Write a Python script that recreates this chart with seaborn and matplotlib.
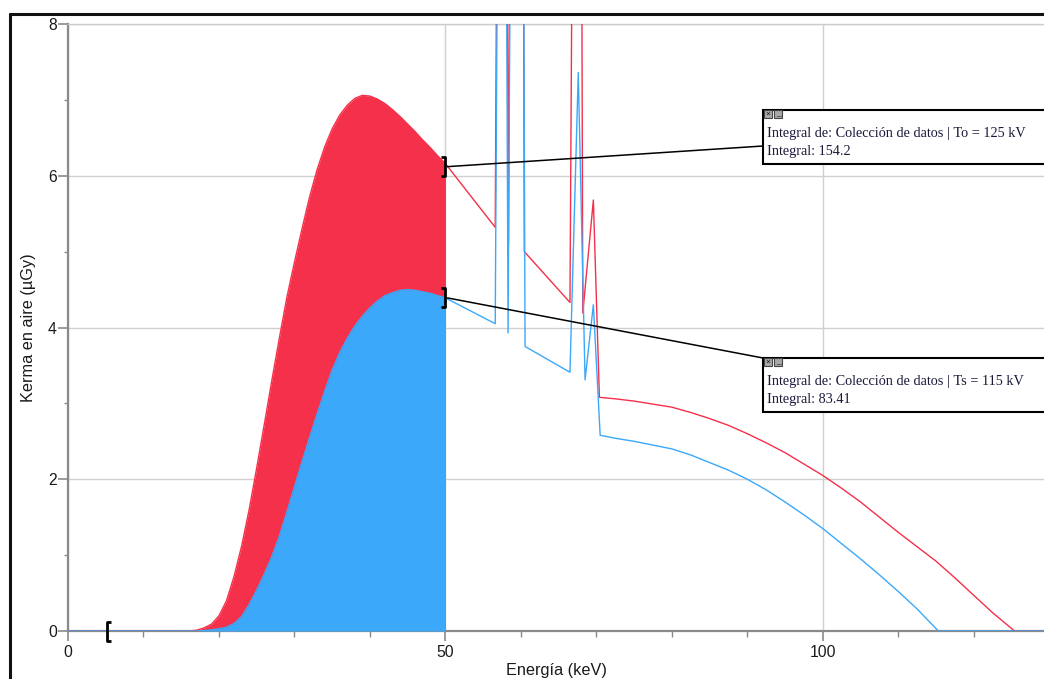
import numpy as np
import pandas as pd
import matplotlib
matplotlib.use("Agg")
import matplotlib.pyplot as plt
import seaborn as sns
from matplotlib.lines import Line2D
from matplotlib.patches import Rectangle
from matplotlib.ticker import MultipleLocator, FixedLocator
from matplotlib.transforms import IdentityTransform

# ---------------- data ----------------
# To = 125 kV spectrum (red)
energy_to = [0, 16, 17, 18, 19, 20, 21, 22, 23, 24, 25, 26, 27, 28, 29, 30,
             31, 32, 33, 34, 35, 36, 37, 38, 39, 40, 41, 42, 43, 44, 45, 46,
             47, 48, 49, 50,
             56.6, 56.9, 58.1, 58.35, 58.6, 60.3, 60.45, 66.5, 66.9, 68.0,
             68.2, 69.6, 70.4, 72.5, 75, 77.5, 80, 82.5, 85, 87.5, 90, 92.5,
             95, 97.5, 100, 102.5, 105, 107.5, 110, 112.5, 115, 117.5, 120,
             122.5, 125.4, 130]
kerma_to = [0, 0.0, 0.01, 0.04, 0.09, 0.2, 0.4, 0.72, 1.12, 1.6, 2.15, 2.72,
            3.3, 3.86, 4.4, 4.86, 5.3, 5.72, 6.08, 6.38, 6.62, 6.8, 6.93,
            7.02, 7.06, 7.05, 7.01, 6.95, 6.87, 6.78, 6.68, 6.58, 6.47, 6.37,
            6.26, 6.16,
            5.32, 11, 11, 5.1, 11, 11, 5.0, 4.33, 11, 11,
            4.19, 5.68, 3.08, 3.06, 3.03, 2.99, 2.95, 2.88, 2.8, 2.71, 2.6,
            2.48, 2.35, 2.2, 2.05, 1.88, 1.7, 1.5, 1.3, 1.11, 0.92, 0.7, 0.47,
            0.24, 0.0, 0.0]

# Ts = 115 kV spectrum (blue)
energy_ts = [0, 17, 18, 19, 20, 21, 22, 23, 24, 25, 26, 27, 28, 29, 30, 31,
             32, 33, 34, 35, 36, 37, 38, 39, 40, 41, 42, 43, 44, 45, 46, 47,
             48, 49, 50,
             56.6, 57.0, 58.0, 58.3, 58.7, 60.3, 60.55, 66.5, 67.6, 68.5,
             69.6, 70.5, 72.5, 75, 77.5, 80, 82.5, 85, 87.5, 90, 92.5, 95,
             97.5, 100, 102.5, 105, 107.5, 110, 112.5, 115.3, 130]
kerma_ts = [0, 0.0, 0.005, 0.015, 0.03, 0.05, 0.1, 0.19, 0.35, 0.54, 0.75,
            0.98, 1.25, 1.57, 1.9, 2.23, 2.55, 2.86, 3.16, 3.44, 3.67, 3.86,
            4.02, 4.15, 4.26, 4.35, 4.42, 4.46, 4.49, 4.5, 4.49, 4.47, 4.45,
            4.42, 4.39,
            4.05, 11, 11, 3.93, 11, 11, 3.75, 3.41, 7.36, 3.31,
            4.3, 2.58, 2.54, 2.5, 2.45, 2.4, 2.32, 2.22, 2.12, 2.0, 1.86, 1.7,
            1.53, 1.35, 1.15, 0.95, 0.74, 0.52, 0.29, 0.0, 0.0]

integral_start = 5.2
integral_end = 50

box_to_lines = ["Integral de: Colección de datos | To = 125 kV", "Integral: 154.2"]
box_ts_lines = ["Integral de: Colección de datos | Ts = 115 kV", "Integral: 83.41"]

x_label = "Energía (keV)"
y_label = "Kerma en aire (µGy)"

RED = "#F5304A"
BLUE = "#3BA8FA"

# ---------------- figure ----------------
sns.set_theme(style="white")
plt.rcParams['font.family'] = ['Liberation Sans', 'DejaVu Sans']

W, H = 1044, 679
fig = plt.figure(figsize=(W / 100, H / 100), dpi=100)


def fx(px):
    return px / W


def fy(py):
    return 1 - py / H


ax = fig.add_axes([fx(68), fy(631), fx(1044) - fx(68), fy(24) - fy(631)])
ax.set_xlim(0, 129.3)
ax.set_ylim(0, 8)

df_to = pd.DataFrame({"E": energy_to, "K": kerma_to})
df_ts = pd.DataFrame({"E": energy_ts, "K": kerma_ts})

# filled integration regions
m_to = df_to["E"] <= integral_end
m_ts = df_ts["E"] <= integral_end
ax.fill_between(df_to["E"][m_to], 0, df_to["K"][m_to], color=RED, lw=0, zorder=2)
ax.fill_between(df_ts["E"][m_ts], 0, df_ts["K"][m_ts], color=BLUE, lw=0, zorder=3)

sns.lineplot(data=df_to, x="E", y="K", color=RED, lw=1.0, estimator=None,
             sort=False, ax=ax, zorder=4)
sns.lineplot(data=df_ts, x="E", y="K", color=BLUE, lw=1.0, estimator=None,
             sort=False, ax=ax, zorder=5)

# axes styling
ax.grid(True, which="major", color="#d0d0d0", lw=1)
ax.set_axisbelow(True)
ax.xaxis.set_major_locator(FixedLocator([0, 50, 100]))
ax.xaxis.set_minor_locator(MultipleLocator(10))
ax.yaxis.set_major_locator(MultipleLocator(2))
ax.yaxis.set_minor_locator(MultipleLocator(1))
for s in ["left", "bottom"]:
    ax.spines[s].set_color("#8a8a8a")
    ax.spines[s].set_linewidth(1.6)
ax.spines["top"].set_color("#cccccc")
ax.spines["top"].set_linewidth(1.0)
ax.spines["right"].set_visible(False)
ax.tick_params(axis="both", which="major", length=7, width=1.2, color="#8a8a8a",
               labelsize=11.3, labelcolor="#1a1a1a", direction="out")
ax.tick_params(axis="x", which="major", pad=3, bottom=True)
ax.tick_params(axis="y", which="major", pad=1, left=True)
ax.tick_params(axis="x", which="minor", length=4, width=1.0, color="#8a8a8a", bottom=True)
ax.tick_params(axis="y", which="minor", length=3, width=1.0, color="#8a8a8a", left=True)
ax.set_xlabel(x_label, fontsize=11.7, color="#1a1a1a", labelpad=2.5)
ax.set_ylabel(y_label, fontsize=11.7, color="#1a1a1a", labelpad=9)

fig.canvas.draw()


def to_px(x, y):
    dx, dy = ax.transData.transform((x, y))
    return dx, H - dy


def disp_line(xs_px, ys_px, **kw):
    ln = Line2D([p for p in xs_px], [H - p for p in ys_px],
                transform=IdentityTransform(), **kw)
    fig.add_artist(ln)


def bracket(x, y, side):
    px, py = to_px(x, y)
    h = 9.5
    w = 4 if side == "right" else -4
    disp_line([px - w, px, px, px - w], [py - h, py - h, py + h, py + h],
              color="black", lw=2, solid_capstyle="butt", zorder=10)
    return px, py


# brackets at integration limits
bracket(integral_start, 0, "left")
bx1, by1 = bracket(integral_end, float(np.interp(integral_end, energy_to, kerma_to)) - 0.04, "right")
bx2, by2 = bracket(integral_end, float(np.interp(integral_end, energy_ts, kerma_ts)), "right")


def info_box(top, bottom, lines, line_y, anchor, start):
    left = 763
    fig.add_artist(Rectangle((fx(left), fy(bottom)), fx(1060) - fx(left),
                             fy(top) - fy(bottom), transform=fig.transFigure,
                             facecolor="white", edgecolor="black", lw=1.5, zorder=20))
    # window icons
    for i, sym in enumerate(["×", "_"]):
        ix = left + 1 + i * 10
        fig.add_artist(Rectangle((fx(ix), fy(top + 8)), fx(8), 8 / H,
                                 transform=fig.transFigure, facecolor="#a8a8a8",
                                 edgecolor="#444444", lw=0.8, zorder=21))
        fig.text(fx(ix + 4), fy(top + 4), sym, fontsize=6, ha="center", va="center",
                 color="#111111", zorder=22)
    for t, yy in zip(lines, line_y):
        fig.text(fx(left + 4), fy(yy), t, fontsize=10.3, ha="left", va="center",
                 family=["Liberation Serif", "DejaVu Serif"], color="#1a1a3a", zorder=22)
    disp_line([start[0], left], [start[1], anchor], color="black", lw=1.1, zorder=9)


info_box(110, 164, box_to_lines, [134, 152], 146, (bx1 + 2, by1))
info_box(358, 412, box_ts_lines, [382, 399], 358, (bx2 + 2, by2))

# outer window frame
disp_line([10, 10], [14, 690], color="#111111", lw=2.2, zorder=30)
disp_line([10, 1050], [14, 14], color="#111111", lw=2.2, zorder=30)

fig.savefig("out.png", dpi=100)
